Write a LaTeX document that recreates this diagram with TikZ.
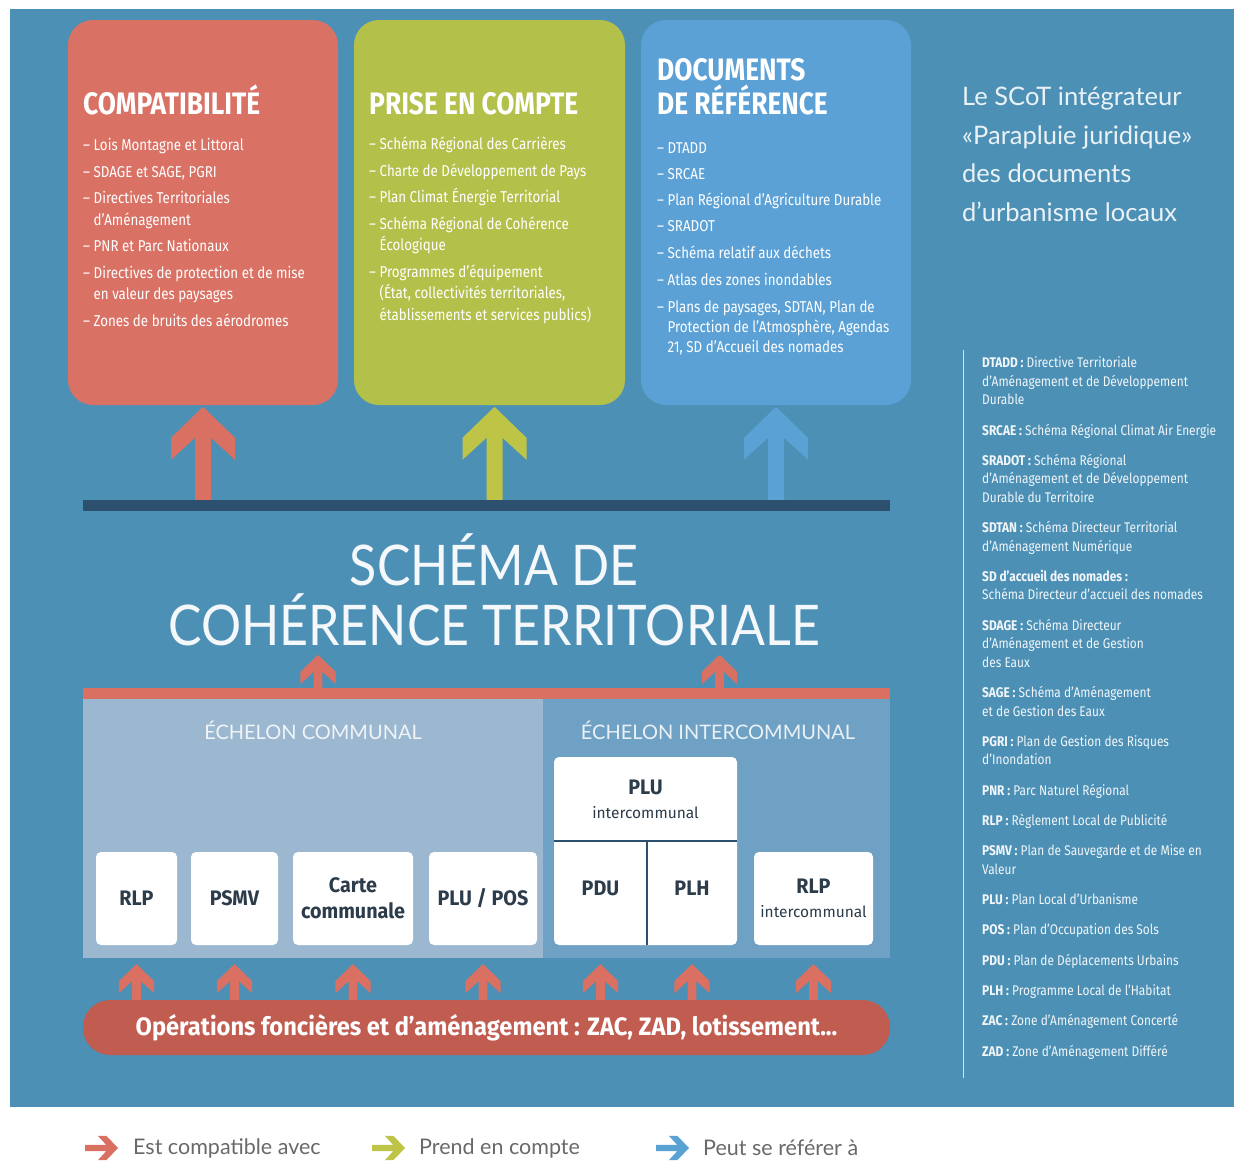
\documentclass[tikz,border=0pt]{standalone}
\usepackage{fontspec}
\setmainfont{Lato}
\newfontfamily\cond[FakeStretch=0.85]{Fira Sans}
\newfontfamily\condb[FakeStretch=0.94]{Fira Sans}
\newfontfamily\fira{Fira Sans}
\newfontfamily\narrow[FakeStretch=0.895]{Lato}
\usetikzlibrary{calc,positioning}

\definecolor{bgc}{RGB}{76,144,182}
\definecolor{compatc}{RGB}{217,113,101}
\definecolor{prisec}{RGB}{179,193,75}
\definecolor{refc}{RGB}{91,161,214}
\definecolor{redarrowc}{RGB}{218,112,98}
\definecolor{greenarrowc}{RGB}{190,196,70}
\definecolor{bluearrowc}{RGB}{90,162,212}
\definecolor{barc}{RGB}{44,80,110}
\definecolor{communec}{RGB}{155,184,208}
\definecolor{interc}{RGB}{111,161,196}
\definecolor{opsc}{RGB}{193,92,80}
\definecolor{doctextc}{RGB}{45,60,75}
\definecolor{legendc}{RGB}{105,105,105}

\tikzset{uparrow/.pic={\fill (8,0) -- (8,-#1+31) -- (32,-#1+53) -- (32,-#1+31) -- (0,-#1)
    -- (-32,-#1+31) -- (-32,-#1+53) -- (-8,-#1+31) -- (-8,0) -- cycle;}}

\begin{document}
\begin{tikzpicture}[x=1pt,y=-1pt,
    card/.style={rounded corners=25pt,inner sep=0pt,minimum width=270pt,minimum height=385pt},
    card title/.style={anchor=base west,inner sep=0pt,text=white,align=left,font=\cond\bfseries\fontsize{31}{34}\selectfont},
    card list/.style={anchor=base west,inner sep=0pt,text=white,align=left,font=\cond\fontsize{15.7}{21.5}\selectfont},
    panel/.style={inner sep=0pt,minimum height=259pt},
    echelon/.style={inner sep=0pt,text=white,opacity=.85,font=\fontsize{20}{24}\selectfont},
    doc/.style={fill=white,rounded corners=5pt,inner sep=0pt,minimum height=93pt,align=center,text=doctextc,font=\condb\bfseries\fontsize{21}{24}\selectfont},
    plain doc/.style={inner sep=0pt,align=center,text=doctextc,font=\condb\bfseries\fontsize{21}{24}\selectfont},
    divider/.style={draw=barc,line width=1.5pt},
    red arrow/.style={color=redarrowc},
    green arrow/.style={color=greenarrowc},
    blue arrow/.style={color=bluearrowc},
    legend text/.style={anchor=west,inner sep=0pt,text=legendc,font=\fontsize{21.5}{24}\selectfont}]

\path[use as bounding box] (0,0) rectangle (1234,1167);
\fill[white] (0,0) rectangle (1234,1167);
\fill[bgc] (10,9) rectangle (1234,1107);

% three families of documents
\node[card,fill=compatc] (compat) at (203,212.5) {};
\node[card,fill=prisec,minimum width=271pt] (prise) at (489.5,212.5) {};
\node[card,fill=refc] (ref) at (776,212.5) {};

\node[card title] (compat title) at (83,114) {COMPATIBILITÉ};
\node[card title] (prise title) at (369,114) {PRISE EN COMPTE};
\node[card title] (ref title) at (657,114) {DOCUMENTS\\DE RÉFÉRENCE};

\node[card list] (compat list) at (83,326) {– Lois Montagne et Littoral\\[5pt]
  – SDAGE et SAGE, PGRI\\[5pt]
  – Directives Territoriales\\
  \hphantom{– }d’Aménagement\\[5pt]
  – PNR et Parc Nationaux\\[5pt]
  – Directives de protection et de mise\\
  \hphantom{– }en valeur des paysages\\[5pt]
  – Zones de bruits des aérodromes};
\node[card list] (prise list) at (369,320) {– Schéma Régional des Carrières\\[5pt]
  – Charte de Développement de Pays\\[5pt]
  – Plan Climat Énergie Territorial\\[5pt]
  – Schéma Régional de Cohérence\\
  \hphantom{– }Écologique\\[5pt]
  – Programmes d’équipement\\
  \hphantom{– }(État, collectivités territoriales,\\
  \hphantom{– }établissements et services publics)};
\node[card list] (ref list) at (657,352) {– DTADD\\[4.5pt]
  – SRCAE\\[5pt]
  – Plan Régional d’Agriculture Durable\\[4.5pt]
  – SRADOT\\[5.5pt]
  – Schéma relatif aux déchets\\[5pt]
  – Atlas des zones inondables\\[5.5pt]
  – Plans de paysages, SDTAN, Plan de\\[-1.5pt]
  \hphantom{– }Protection de l’Atmosphère, Agendas\\[-1.5pt]
  \hphantom{– }21, SD d’Accueil des nomades};

% SCoT
\node[fill=barc,inner sep=0pt,minimum width=807pt,minimum height=11pt] (bar) at (486.5,505.5) {};
\pic[red arrow] at (bar.north -| compat.south) {uparrow=93};
\pic[green arrow] at ($(bar.north -| prise.south)+(5,0)$) {uparrow=93};
\pic[blue arrow] at (bar.north -| ref.south) {uparrow=93};

\node[anchor=base,align=center,inner sep=0pt,text=white!94!bgc,font=\narrow\fontsize{56}{60}\selectfont] (scot) at (494,645) {SCHÉMA DE\\COHÉRENCE TERRITORIALE};

% local documents
\node[fill=redarrowc,inner sep=0pt,minimum width=807pt,minimum height=11pt] (redbar) at (486.5,693.5) {};
\node[panel,fill=communec,minimum width=460pt] (commune) at (313,828.5) {};
\node[panel,fill=interc,minimum width=347pt] (inter) at (716.5,828.5) {};
\pic[red arrow,scale=.55] at ($(redbar.north -| commune.north)+(5,0)$) {uparrow=60};
\pic[red arrow,scale=.55] at ($(redbar.north -| inter.north)+(3,0)$) {uparrow=60};

\node[echelon] (commune label) at (313,730) {ÉCHELON COMMUNAL};
\node[echelon] (inter label) at (718,730) {ÉCHELON INTERCOMMUNAL};

\node[doc,minimum width=81pt] (rlp) at (136.5,898.5) {RLP};
\node[doc,minimum width=87pt] (psmv) at (234.5,898.5) {PSMV};
\node[doc,minimum width=120pt] (carte) at (353,898.5) {Carte\\[2pt]communale};
\node[doc,minimum width=108pt] (plupos) at (483,898.5) {PLU / POS};

\fill[white,rounded corners=5pt] (554,757) rectangle (737,945);
\node[plain doc,minimum width=183pt,minimum height=84pt] (plui) at (645.5,799) {PLU\\{\fira\mdseries\fontsize{15.5}{18}\selectfont intercommunal}};
\node[plain doc,minimum width=93pt,minimum height=94pt] (pdu) at (600.5,888) {PDU};
\node[plain doc,minimum width=90pt,minimum height=94pt] (plh) at (692,888) {PLH};
\node[doc,minimum width=119pt] (rlpi) at (813.5,898.5) {RLP\\{\fira\mdseries\fontsize{15.5}{18}\selectfont intercommunal}};
\draw[divider] (pdu.north west) -- (plh.north east);
\draw[divider] (pdu.north east) -- (pdu.north east |- rlpi.south);

% operations
\node[fill=opsc,rounded corners=27pt,inner sep=0pt,minimum width=807pt,minimum height=55pt,text=white,font=\condb\bfseries\fontsize{25.2}{30}\selectfont] (ops) at (486.5,1027.5) {Opérations foncières et d’aménagement : ZAC, ZAD, lotissement...};
\foreach \d in {rlp,psmv,carte,plupos,pdu,plh,rlpi}
  \pic[red arrow,scale=.55] at (ops.north -| \d.south) {uparrow=65};

% right column
\node[anchor=base west,align=left,inner sep=0pt,text=white!88!bgc,font=\fontsize{25.5}{38.5}\selectfont] (motto) at (962,221) {Le SCoT intégrateur\\«Parapluie juridique»\\des documents\\d’urbanisme locaux};

\draw[white!75!bgc,line width=1pt] (963,350) -- (963,1078);
\node[anchor=base west,align=left,inner sep=0pt,text=white!92!bgc,font=\cond\fontsize{14}{18.5}\selectfont] (glossary) at (982,1056) {\textbf{DTADD :} Directive Territoriale\\
  d’Aménagement et de Développement\\
  Durable\\[11.8pt]
  \textbf{SRCAE :} Schéma Régional Climat Air Energie\\[11.8pt]
  \textbf{SRADOT :} Schéma Régional\\
  d’Aménagement et de Développement\\
  Durable du Territoire\\[11.8pt]
  \textbf{SDTAN :} Schéma Directeur Territorial\\
  d’Aménagement Numérique\\[11.8pt]
  \textbf{SD d’accueil des nomades :}\\
  Schéma Directeur d’accueil des nomades\\[11.8pt]
  \textbf{SDAGE :} Schéma Directeur\\
  d’Aménagement et de Gestion\\
  des Eaux\\[11.8pt]
  \textbf{SAGE :} Schéma d’Aménagement\\
  et de Gestion des Eaux\\[11.8pt]
  \textbf{PGRI :} Plan de Gestion des Risques\\
  d’Inondation\\[11.8pt]
  \textbf{PNR :} Parc Naturel Régional\\[11.8pt]
  \textbf{RLP :} Règlement Local de Publicité\\[11.8pt]
  \textbf{PSMV :} Plan de Sauvegarde et de Mise en\\
  Valeur\\[11.8pt]
  \textbf{PLU :} Plan Local d’Urbanisme\\[11.8pt]
  \textbf{POS :} Plan d’Occupation des Sols\\[11.8pt]
  \textbf{PDU :} Plan de Déplacements Urbains\\[11.8pt]
  \textbf{PLH :} Programme Local de l’Habitat\\[11.8pt]
  \textbf{ZAC :} Zone d’Aménagement Concerté\\[11.8pt]
  \textbf{ZAD :} Zone d’Aménagement Différé};

% legend
\pic[red arrow,scale=.38,rotate=-90] at (85,1148) {uparrow=87};
\node[legend text] (leg compat) at (133,1148) {Est compatible avec};
\pic[green arrow,scale=.38,rotate=-90] at (372,1148) {uparrow=87};
\node[legend text] (leg prise) at (419,1148) {Prend en compte};
\pic[blue arrow,scale=.38,rotate=-90] at (656,1148) {uparrow=87};
\node[legend text] (leg ref) at (703,1148) {Peut se référer à};
\end{tikzpicture}
\end{document}
